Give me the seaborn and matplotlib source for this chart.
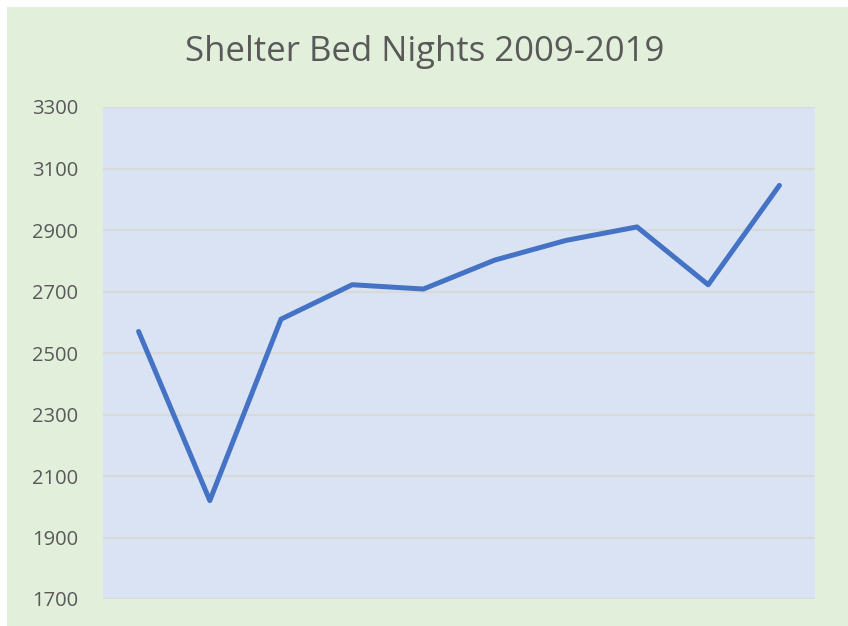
import matplotlib
matplotlib.use("Agg")
import matplotlib.pyplot as plt
import seaborn as sns
import pandas as pd
from matplotlib.patches import Rectangle

years = ["2010", "2011", "2012", "2013", "2014", "2015", "2016", "2017", "2018", "2019"]
bed_nights = [2570, 2020, 2610, 2722, 2708, 2802, 2866, 2910, 2722, 3045]
y_ticks = [1700, 1900, 2100, 2300, 2500, 2700, 2900, 3100, 3300]
title = "Shelter Bed Nights 2009-2019"

sns.set_theme(style="white")
plt.rcParams['font.family'] = ['Open Sans', 'DejaVu Sans']

W, H = 848, 626
fig = plt.figure(figsize=(W / 100, H / 100), dpi=100)
fig.patch.set_facecolor("white")
fig.patches.append(Rectangle((7 / W, 0), 1 - 7 / W, 1 - 7 / H, transform=fig.transFigure,
                             facecolor="#E2EFDA", edgecolor="none", zorder=-5))

ax = fig.add_axes([103 / W, 1 - 599 / H, (815 - 103) / W, (599 - 107) / H])
ax.set_zorder(1)
ax.set_facecolor("#DAE3F3")

df = pd.DataFrame({"x": range(len(years)), "value": bed_nights})
sns.lineplot(data=df, x="x", y="value", ax=ax, color="#4472C4", linewidth=3.6,
             solid_capstyle="round", solid_joinstyle="round", zorder=3)

ax.set_xlim(-0.5, len(years) - 0.5)
ax.set_ylim(y_ticks[0], y_ticks[-1])
ax.set_yticks(y_ticks)
ax.set_yticklabels([str(t) for t in y_ticks], fontsize=14.5, color="#595959")
ax.set_xticks([])
ax.set_xlabel("")
ax.set_ylabel("")
ax.tick_params(axis="y", length=0, pad=18)
ax.grid(axis="y", color="#D9D9D9", linewidth=1.5, zorder=1)
ax.set_axisbelow(True)
for s in ax.spines.values():
    s.set_visible(False)

fig.text(425 / W, 1 - 52 / H, title, ha="center", va="center", fontsize=25, color="#595959", zorder=5)

fig.savefig("out.png", dpi=100, facecolor=fig.get_facecolor())
